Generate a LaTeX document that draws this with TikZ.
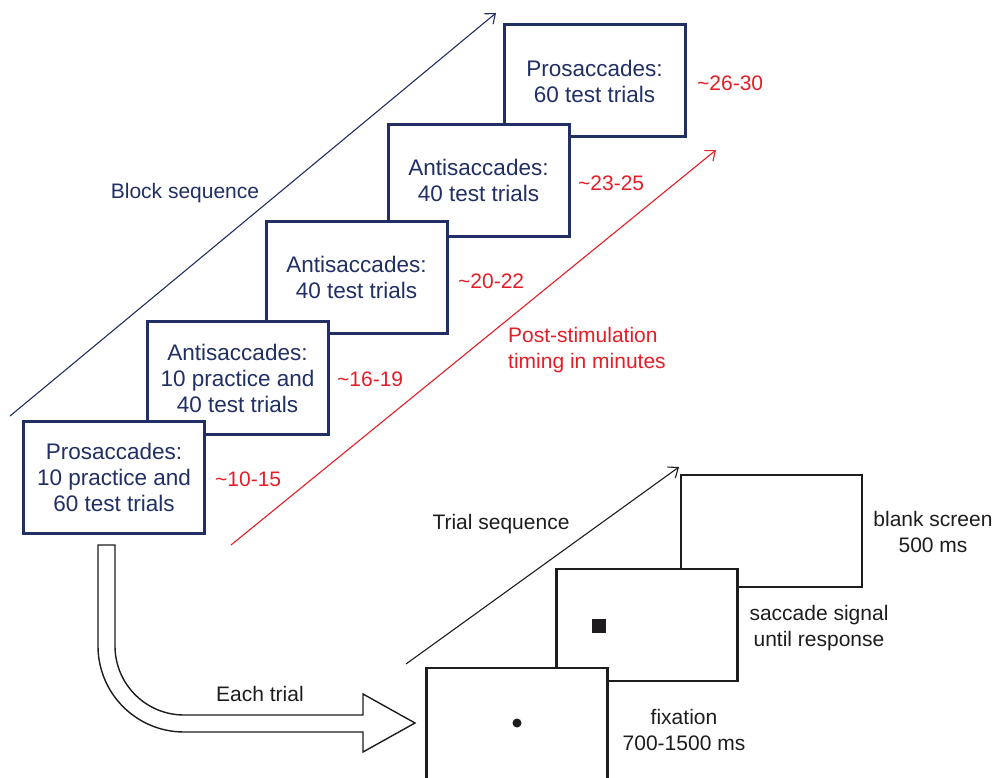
\documentclass[tikz,border=0pt]{standalone}
\usepackage{fontspec}
\setmainfont{Liberation Sans}
\usetikzlibrary{arrows.meta}
\definecolor{navy}{RGB}{33,47,100}
\definecolor{myred}{RGB}{228,30,38}
\definecolor{ink}{RGB}{30,28,30}
\begin{document}
\begin{tikzpicture}[x=1pt,y=-1pt,
  blk/.style={draw=navy, line width=3pt, fill=white, minimum width=181pt, minimum height=112pt,
    inner sep=0pt, align=center, text=navy, font=\fontsize{22.5}{26}\selectfont},
  trl/.style={draw=ink, line width=2.6pt, fill=white, minimum width=181pt, minimum height=112pt, inner sep=0pt},
  timelbl/.style={anchor=west, inner sep=0pt, text=myred, font=\fontsize{21}{26}\selectfont},
  lbl/.style={inner sep=0pt, align=center, font=\fontsize{21}{26}\selectfont},
  seqarrow/.style={-{Straight Barb[length=8.5pt,width=13.5pt]}, line width=1.1pt}]
\useasboundingbox (0,0) rectangle (994,778);

% sequence arrows
\coordinate (bsA) at (10,416);
\coordinate (bsB) at (496,13);
\draw[seqarrow, navy] (bsA) -- (bsB);
\coordinate (rdA) at (231,545);
\coordinate (rdB) at (716,150);
\draw[seqarrow, myred] (rdA) -- (rdB);
\coordinate (tsA) at (406,664);
\coordinate (tsB) at (679,467);
\draw[seqarrow, ink] (tsA) -- (tsB);

\node[lbl, text=navy] (blockseq) at (185,193) {Block sequence};
\node[lbl, text=myred, anchor=west, align=left] (post) at (508,350) {Post-stimulation\\timing in minutes};
\node[lbl, text=ink] (trialseq) at (501,524) {Trial sequence};

% block boxes (back to front)
\node[blk] (b5) at (594.5,81) {Prosaccades:\\60 test trials};
\node[blk] (b4) at (478.5,180.5) {Antisaccades:\\40 test trials};
\node[blk] (b3) at (356.5,277.5) {Antisaccades:\\40 test trials};
\node[blk] (b2) at (237.5,378) {Antisaccades:\\10 practice and\\40 test trials};
\node[blk] (b1) at (114,477.5) {Prosaccades:\\10 practice and\\60 test trials};

% timing labels
\node[timelbl] (t1) at (215,479) {\textasciitilde10-15};
\node[timelbl] (t2) at (337,379) {\textasciitilde16-19};
\node[timelbl] (t3) at (458,281) {\textasciitilde20-22};
\node[timelbl] (t4) at (578,183) {\textasciitilde23-25};
\node[timelbl] (t5) at (697,83) {\textasciitilde26-30};

% hollow bent arrow
\draw[ink, line width=1.4pt, fill=white]
  (98,545) -- (115,545) -- (115,646) arc[start angle=180, end angle=90, radius=69]
  -- (363,715) -- (363,694) -- (415,723) -- (363,752) -- (363,732) -- (184,732)
  arc[start angle=90, end angle=180, radius=86] -- cycle;
\node[lbl, text=ink] (each) at (260,694) {Each trial};

% trial screens (back to front)
\node[trl] (sc) at (771.5,531) {};
\node[trl] (sb) at (647,625) {};
\node[trl] (sa) at (517,724) {};
\fill[ink] (592,619) rectangle (606,633);
\fill[ink] (517,723) circle[radius=4.5];

\node[lbl, text=ink] (lc) at (933,532) {blank screen\\500 ms};
\node[lbl, text=ink] (lb) at (819,628) {saccade signal\\until response};
\node[lbl, text=ink] (la) at (684,730) {fixation\\700-1500 ms};
\end{tikzpicture}
\end{document}
